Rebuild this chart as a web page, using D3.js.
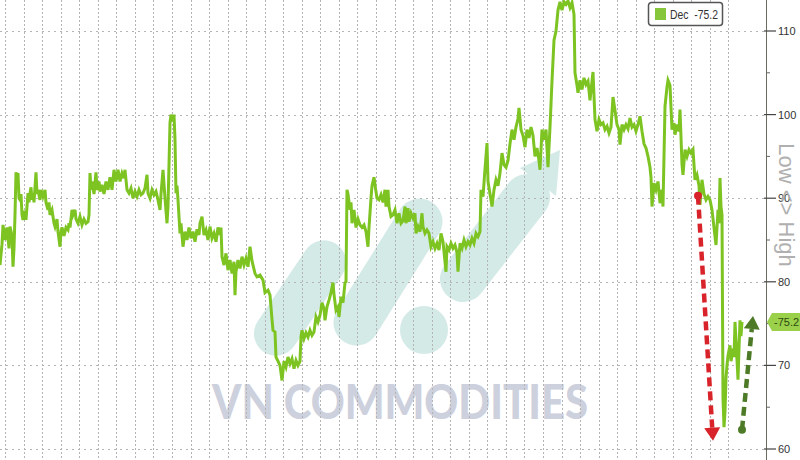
<!DOCTYPE html>
<html>
<head>
<meta charset="utf-8">
<script src="https://cdn.jsdelivr.net/npm/d3@7"></script>
<style>
  html, body { margin: 0; padding: 0; background: #ffffff; }
  svg { display: block; }
</style>
</head>
<body>
<svg id="chart" width="800" height="460"></svg>
<script>
// ---------------- DATA ----------------
const seriesName = "Dec";
const lastValue = 75.2;
const legendText = "Dec  -75.2";
const lastLabel = "-75.2";
const axisTitle = "Low <> High";
const watermarkText = "VN COMMODITIES";
const yMajorTicks = [60, 70, 80, 90, 100, 110];
const yMinorTicks = [65, 75, 85, 95, 105];
// [trading day, index value]
const decSeries = [
[0,82.0],[1,84.5],[1.5,86.8],[2.5,85.0],[3.5,86.5],[4.5,84.0],[5,86.6],[6,85.5],[6.5,81.8],[7,84.0],
[7.5,88.0],[8,93.1],[8.5,92.5],[9,93.0],[9.5,90.0],[10,89.8],[10.5,90.5],[11,88.0],[11.5,87.4],[12.5,88.5],
[13,87.4],[14,90.6],[14.5,89.5],[15,90.6],[15.5,91.3],[16,89.8],[16.5,90.6],[17,89.5],[18,93.1],[18.5,90.5],
[19,91.0],[20,89.8],[20.5,91.0],[21.5,90.2],[22.5,91.0],[23,89.5],[24,88.6],[24.5,89.5],[25,88.0],[26,88.6],
[27,87.0],[27.5,86.6],[28.5,87.5],[29,86.0],[30,84.2],[30.5,86.0],[31,86.5],[32,85.5],[33,86.5],[34,86.2],
[34.5,87.0],[35,86.5],[36,88.6],[36.5,88.0],[37.5,88.6],[38,87.5],[39,87.0],[40,87.8],[41,86.8],[42,87.5],
[43,87.0],[44,87.2],[44.5,88.0],[45,93.0],[45.5,91.0],[46,92.0],[47,90.5],[48,93.1],[48.5,91.0],[49.5,92.0],
[50,90.8],[51,91.6],[52,90.5],[53,92.0],[54,91.0],[55,92.5],[56,91.0],[57,93.4],[58,92.0],[59,93.4],
[60,92.0],[61,93.0],[62,92.4],[62.5,93.4],[63.5,91.0],[64.5,90.6],[65.5,91.2],[66.5,90.0],[67.5,90.8],[68.5,90.2],
[69.5,91.0],[70.5,90.4],[71.5,90.6],[72.5,91.2],[73.5,92.8],[74,90.6],[75,90.0],[76,91.0],[77,90.4],[78,90.8],
[79,89.8],[80,88.6],[80.5,90.5],[81.5,93.4],[82.5,90.0],[83.5,87.0],[84,89.0],[85,99.0],[85.5,100.0],[86.5,99.2],
[87,100.0],[87.5,97.0],[88,90.6],[88.5,91.5],[89,89.8],[90,85.8],[90.5,87.0],[91.5,84.2],[92.5,86.0],[93.5,85.0],
[94.5,86.5],[95.5,85.2],[96.5,86.0],[97.5,84.8],[98.5,86.3],[99.5,85.6],[100,87.0],[101,87.8],[102,85.6],[103,86.2],
[104,85.0],[105,86.6],[106,85.2],[107,85.8],[108,84.8],[109,86.5],[110,85.6],[110.5,86.5],[111,83.0],[112,82.0],
[113,83.4],[114,81.4],[115,82.6],[116,81.0],[117,82.4],[117.5,78.4],[118,81.2],[119,82.6],[120,81.6],[121,83.0],
[122,82.0],[123,82.8],[124,81.8],[125,84.2],[126,82.5],[127.5,81.0],[128.5,80.6],[130,80.8],[131.5,80.2],[132.5,78.7],
[134,79.0],[135,78.4],[136,75.5],[136.5,74.2],[137.5,74.0],[138,71.0],[139,70.5],[140,70.0],[141,68.2],[142,70.5],
[143,69.8],[144,71.0],[145,70.2],[146,70.8],[147,69.6],[148,70.6],[149,70.0],[150,70.5],[150.5,73.4],[151,74.2],
[152,73.2],[153,73.9],[154,73.4],[155,74.2],[156,73.6],[157,74.0],[158,75.8],[159,75.2],[160,76.0],[161,77.5],
[162,76.8],[162.5,75.4],[163.5,77.0],[164.5,77.8],[165.5,78.7],[166.5,79.9],[167,78.5],[168,76.6],[169,77.0],[169.5,75.8],
[170.5,78.2],[171.5,77.5],[172.5,79.9],[173,80.0],[173.5,91.0],[174,90.5],[175,88.6],[175.5,89.5],[176,87.0],[177,88.6],
[178,86.5],[179,87.5],[180,86.8],[181,86.5],[182,86.8],[183,86.0],[184,84.2],[184.5,86.5],[185.5,90.0],[186,91.5],
[187,92.5],[187.5,91.6],[188.5,90.0],[189.5,89.8],[190.5,90.4],[191.5,89.5],[192.5,91.0],[193,89.0],[194,91.0],[194.5,89.0],
[195.5,87.8],[196.5,88.0],[197.5,88.6],[198.5,87.0],[199.5,88.2],[200.5,87.0],[201.5,87.3],[202.5,89.0],[203,87.0],[204,88.8],
[204.5,87.2],[205.5,88.2],[206.5,87.6],[207.5,88.2],[208,85.8],[209,86.6],[210,86.0],[211,88.2],[211.5,86.6],[212.5,85.8],
[213.5,86.2],[214.5,85.8],[215.5,84.2],[216.5,84.8],[217.5,84.0],[218.5,84.6],[219.5,83.8],[220.5,85.8],[221.5,84.8],[223,81.2],
[223.5,84.2],[224.5,83.8],[225.5,84.6],[226.5,84.0],[227.5,84.4],[228.5,83.5],[229,81.2],[230,84.6],[231,84.0],[232,85.0],
[233,84.2],[234,84.8],[235,84.4],[236,85.2],[237,84.6],[238,85.8],[239,85.4],[240,86.0],[240.5,91.0],[241.5,90.2],
[242.5,93.5],[243.5,96.6],[244,92.0],[245,90.5],[246,89.0],[247,91.0],[248,92.2],[249,91.5],[250,93.0],[251,95.4],
[252,94.0],[253,93.7],[254,94.5],[255,96.5],[256,98.2],[257,97.0],[258,98.5],[259,99.5],[259.5,100.8],[260.5,98.2],
[261.5,97.5],[262.5,96.1],[263.5,98.2],[264.5,97.2],[265.5,98.5],[266.5,97.5],[267.5,95.0],[268.5,96.0],[269.5,94.5],[270,93.4],
[271,98.2],[272,97.0],[273,98.2],[274,93.7],[275,98.5],[276,104.0],[277,108.9],[278,110.0],[279,112.5],[280,113.5],
[281,112.5],[282,113.5],[283,113.2],[284,113.6],[285,112.8],[286,113.4],[287,112.0],[287.5,105.0],[288.5,103.5],[289,102.6],
[290,104.1],[291,103.0],[292,104.4],[293,103.6],[294,104.0],[295,101.7],[296,104.0],[296.5,105.1],[297.5,99.4],[298.5,98.0],
[299.5,99.4],[300.5,98.8],[301.5,99.0],[302.5,98.2],[303.5,98.6],[304.5,97.8],[305.5,98.5],[306.5,102.1],[307.5,100.5],[308.5,98.8],
[309.5,98.2],[310,96.4],[311,98.8],[312,98.2],[313,98.8],[314,98.3],[315,99.6],[316,98.5],[317,98.8],[318,98.0],
[319,98.8],[320,99.8],[321,98.0],[322,96.5],[323,96.0],[324,95.0],[325,93.7],[325.5,92.5],[326,89.0],[327,91.8],
[328,91.0],[329,92.0],[330,89.4],[331,91.0],[331.5,89.0],[332.5,101.0],[333.5,103.3],[334,104.1],[335,103.5],[336,98.2],
[337,99.0],[337.5,97.6],[338.5,98.8],[339.5,98.0],[340,100.6],[341,94.0],[341.5,92.8],[342.5,95.8],[343.5,95.0],[344.5,95.8],
[345.5,95.4],[346.5,95.8],[347.5,92.2],[348.5,92.8],[349.5,91.5],[350,89.2],[351,92.2],[352,90.5],[353,89.8],[354,90.2],
[355,89.8],[356,88.6],[357,86.5],[358,84.4],[359,88.6],[359.5,87.0],[360,92.4],[360.5,89.0],[361,88.0],[361.5,66.0],
[362,62.6],[362.5,64.5],[363,68.5],[363.5,70.0],[364,71.2],[365,72.4],[365.5,70.5],[366.5,72.0],[367,71.0],[367.5,75.2],
[368,73.0],[369,68.3],[369.5,72.0],[370,75.4],[370.5,73.5],[371,75.2]
];
// annotation arrows: [startDay, startValue, endDay, endValue]
const dropArrow = [349, 90.3, 356.5, 61.0];
const reboundArrow = [371, 62.3, 376.5, 75.9];

// ---------------- LAYOUT ----------------
const W = 800, H = 460;
const plotRight = 766;
const svg = d3.select("#chart");

const x = d3.scaleLinear().domain([0, 383]).range([0, plotRight]);
const y = d3.scaleLinear().domain([60, 110]).range([449, 31]);
const xGrid = d3.range(40).map(k => 2.5 + 9.275 * k);

svg.append("rect").attr("width", W).attr("height", H).attr("fill", "#ffffff");

// ---------------- WATERMARK ----------------
const wm = svg.append("g").attr("opacity", 0.38);
const teal = "#8fc9c2";
function pill(cx, cy, len, wid, ang) {
  wm.append("rect")
    .attr("x", -len / 2).attr("y", -wid / 2)
    .attr("width", len).attr("height", wid)
    .attr("rx", wid / 2).attr("ry", wid / 2)
    .attr("fill", teal)
    .attr("transform", `translate(${cx},${cy}) rotate(${ang})`);
}
pill(300, 298, 130, 44, -56);
pill(388, 272, 165, 46, -58);
wm.append("circle").attr("cx", 424).attr("cy", 330).attr("r", 24).attr("fill", teal);
pill(495, 238, 150, 46, -52);
wm.append("path").attr("d", "M520,168 L560,150 L556,196 Z").attr("fill", teal);

svg.append("text")
  .attr("x", 212).attr("y", 419)
  .attr("textLength", 376).attr("lengthAdjust", "spacingAndGlyphs")
  .attr("font-family", "Lato, 'Open Sans', sans-serif")
  .attr("font-weight", 900).attr("font-size", 47)
  .attr("fill", "#cdd0dd")
  .text(watermarkText);

// ---------------- GRID ----------------
const grid = svg.append("g").attr("stroke", "#b4b4b4").attr("stroke-width", 1);
grid.selectAll("line.v").data(xGrid).join("line")
  .attr("class", "v")
  .attr("x1", d => Math.round(x(d)) + 0.5).attr("x2", d => Math.round(x(d)) + 0.5)
  .attr("y1", 0).attr("y2", H)
  .attr("stroke-dasharray", "2,2");
grid.selectAll("line.h").data(yMajorTicks).join("line")
  .attr("class", "h")
  .attr("x1", 0).attr("x2", plotRight)
  .attr("y1", d => Math.round(y(d)) + 0.5).attr("y2", d => Math.round(y(d)) + 0.5)
  .attr("stroke-dasharray", "2,4");

// ---------------- LINE ----------------
const line = d3.line().x(d => x(d[0])).y(d => y(d[1]));
svg.append("path")
  .datum(decSeries)
  .attr("d", line)
  .attr("fill", "none")
  .attr("stroke", "#7dc423")
  .attr("stroke-width", 3)
  .attr("stroke-linejoin", "miter");

// ---------------- ARROWS ----------------
function arrow(a, color) {
  const x1 = x(a[0]), y1 = y(a[1]), x2 = x(a[2]), y2 = y(a[3]);
  const ang = Math.atan2(y2 - y1, x2 - x1);
  const headLen = 13, headW = 8;
  const bx = x2 - headLen * Math.cos(ang), by = y2 - headLen * Math.sin(ang);
  svg.append("line")
    .attr("x1", x1).attr("y1", y1).attr("x2", bx).attr("y2", by)
    .attr("stroke", color).attr("stroke-width", 4.5)
    .attr("stroke-dasharray", "9,5");
  const px = -Math.sin(ang), py = Math.cos(ang);
  svg.append("path")
    .attr("d", `M${x2},${y2} L${bx + px * headW},${by + py * headW} L${bx + px * 2},${by + py * 2} L${bx - px * 2},${by - py * 2} L${bx - px * headW},${by - py * headW} Z`)
    .attr("fill", color);
  svg.append("circle").attr("cx", x1).attr("cy", y1).attr("r", 4).attr("fill", color);
}
arrow(dropArrow, "#d8232a");
arrow(reboundArrow, "#4d7a26");

// ---------------- RIGHT AXIS ----------------
const ax = svg.append("g");
ax.append("line").attr("x1", plotRight + 0.5).attr("x2", plotRight + 0.5)
  .attr("y1", 0).attr("y2", H).attr("stroke", "#6b6b5e").attr("stroke-width", 1);
ax.selectAll("line.maj").data(yMajorTicks).join("line")
  .attr("class", "maj")
  .attr("x1", plotRight - 2).attr("x2", plotRight + 10)
  .attr("y1", d => y(d)).attr("y2", d => y(d))
  .attr("stroke", "#444").attr("stroke-width", 1.2);
ax.selectAll("line.min").data(yMinorTicks).join("line")
  .attr("class", "min")
  .attr("x1", plotRight).attr("x2", plotRight + 4)
  .attr("y1", d => y(d)).attr("y2", d => y(d))
  .attr("stroke", "#666").attr("stroke-width", 1);
ax.selectAll("text.lab").data(yMajorTicks).join("text")
  .attr("class", "lab")
  .attr("x", plotRight + 12).attr("y", d => y(d) + 4)
  .attr("font-family", "'Liberation Sans', Arial, sans-serif")
  .attr("font-size", 11).attr("fill", "#333")
  .text(d => d);

// axis title
svg.append("text")
  .attr("transform", `translate(779, 205) rotate(90)`)
  .attr("text-anchor", "middle")
  .attr("font-family", "'Liberation Sans', Arial, sans-serif")
  .attr("font-size", 22).attr("fill", "#b0b0b0")
  .text(axisTitle);

// last value tag
const ly = y(lastValue);
svg.append("path")
  .attr("d", `M${plotRight + 1},${ly} L${plotRight + 6},${ly - 9} L${W},${ly - 9} L${W},${ly + 9} L${plotRight + 6},${ly + 9} Z`)
  .attr("fill", "#9bd04a");
svg.append("text")
  .attr("x", plotRight + 8).attr("y", ly + 4)
  .attr("font-family", "'Liberation Sans', Arial, sans-serif")
  .attr("font-size", 11).attr("fill", "#2d4a12")
  .text(lastLabel);

// ---------------- LEGEND ----------------
const lg = svg.append("g").attr("transform", "translate(648,2)");
lg.append("rect").attr("x", 0.5).attr("y", 0.5).attr("width", 74).attr("height", 23)
  .attr("rx", 3).attr("fill", "#fff").attr("stroke", "#555").attr("stroke-width", 1.5);
lg.append("rect").attr("x", 7).attr("y", 6).attr("width", 11).attr("height", 12).attr("fill", "#86c63a");
lg.append("text").attr("x", 22).attr("y", 17)
  .attr("font-family", "'Liberation Sans', Arial, sans-serif")
  .attr("font-size", 12.5).attr("fill", "#333")
  .attr("textLength", 48).attr("lengthAdjust", "spacingAndGlyphs")
  .attr("xml:space", "preserve")
  .text(legendText);
</script>
</body>
</html>
